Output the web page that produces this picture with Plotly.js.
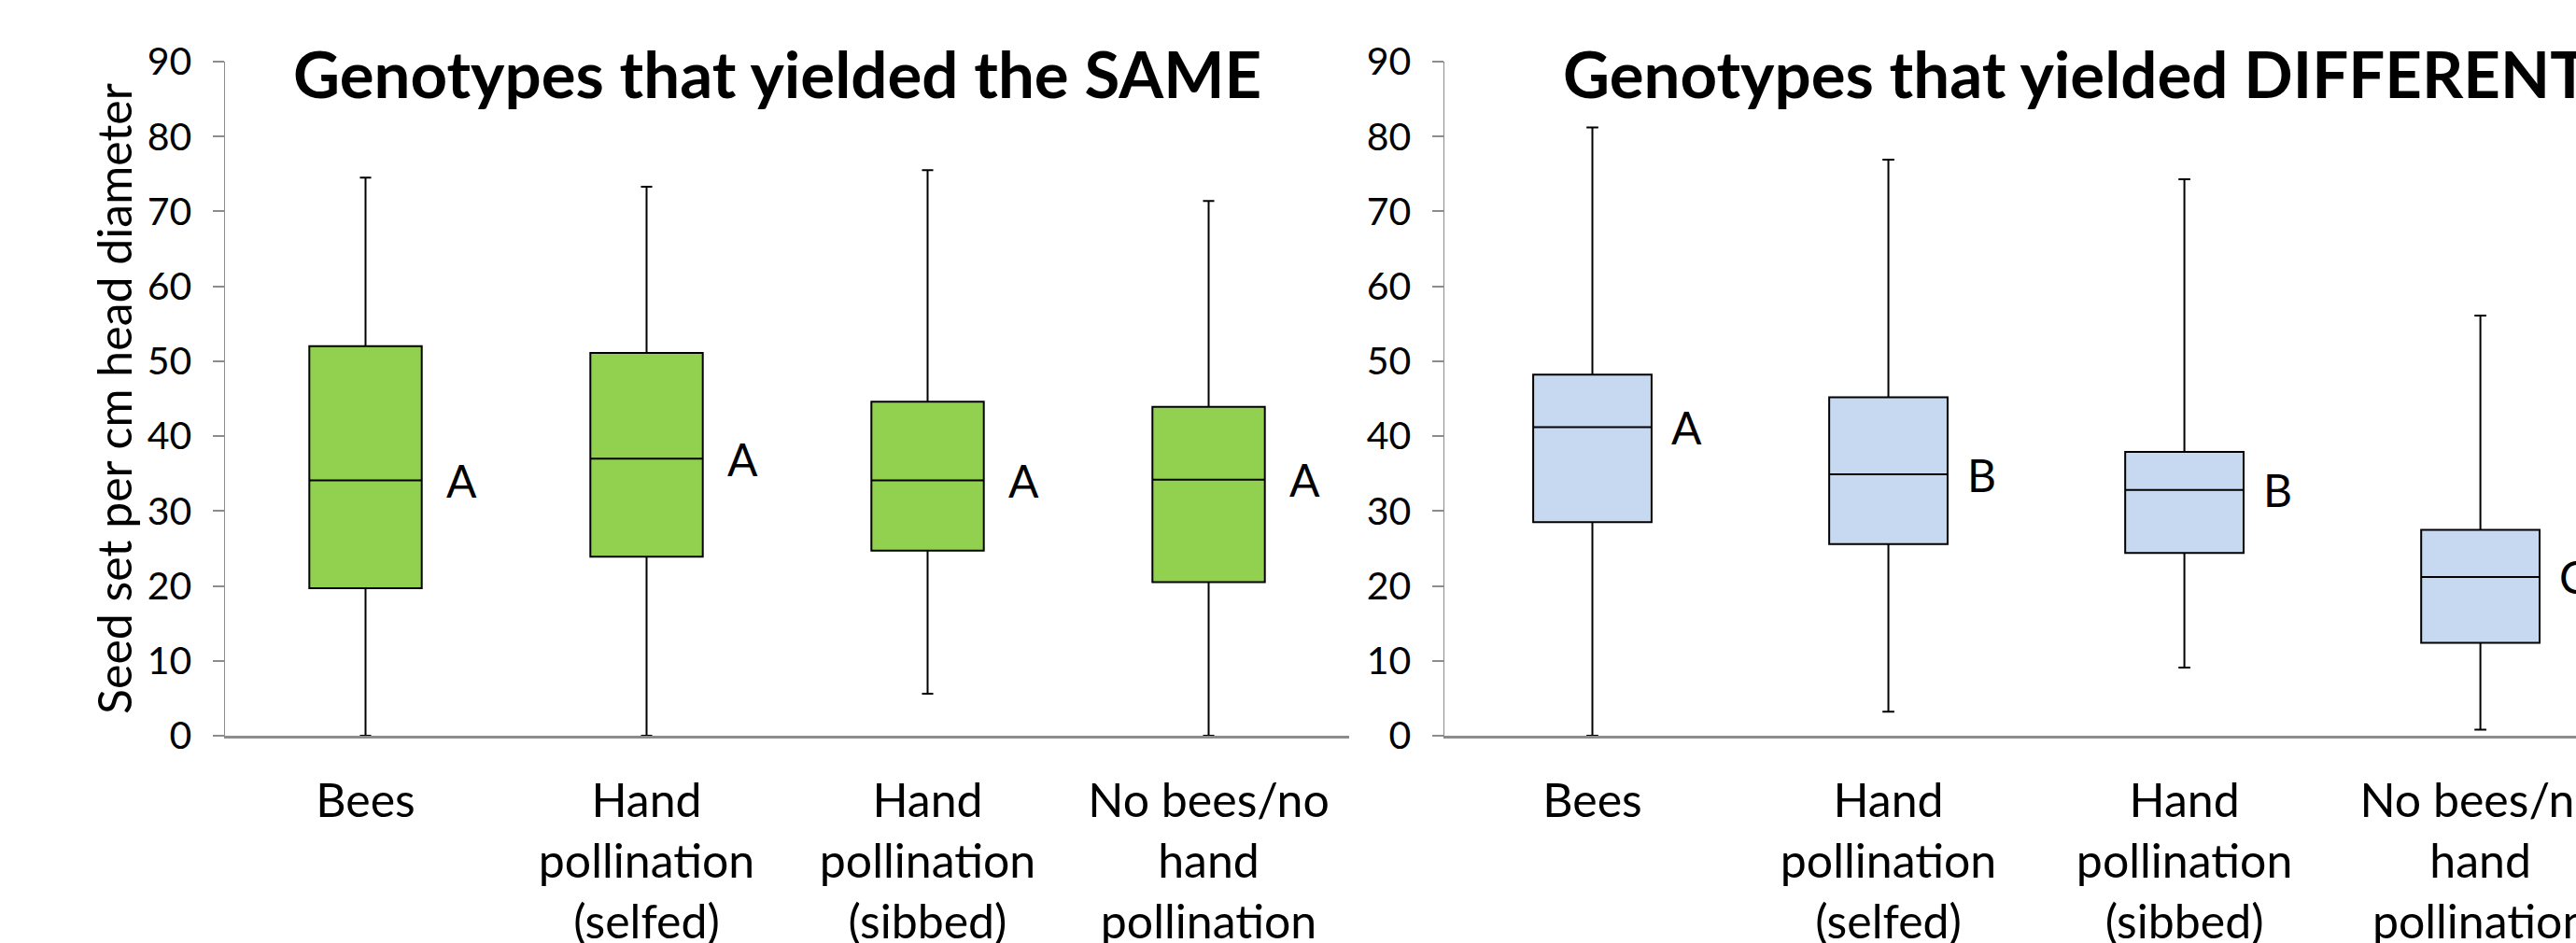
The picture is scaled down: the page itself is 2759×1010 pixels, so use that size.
<!DOCTYPE html>
<html>
<head>
<meta charset="utf-8">
<script src="https://cdn.plot.ly/plotly-3.0.1.min.js"></script>
<style>
  html, body { margin: 0; padding: 0; background: #fff; }
  #chart { width: 2759px; height: 1010px; }
</style>
</head>
<body>
<div id="chart"></div>
<script>
// ---- data ----
const categories = ['Bees', 'Hand<br>pollination<br>(selfed)', 'Hand<br>pollination<br>(sibbed)', 'No bees/no<br>hand<br>pollination'];

const sameUpper  = [74.5, 73.3, 75.5, 71.4];
const sameQ3     = [52.0, 51.1, 44.6, 43.9];
const sameMedian = [34.1, 37.0, 34.1, 34.2];
const sameQ1     = [19.7, 23.9, 24.7, 20.5];
const sameLower  = [0, 0, 5.6, 0];
const sameLetters = ['A', 'A', 'A', 'A'];

const diffUpper  = [81.2, 76.9, 74.3, 56.1];
const diffQ3     = [48.2, 45.2, 37.9, 27.5];
const diffMedian = [41.2, 34.9, 32.8, 21.2];
const diffQ1     = [28.5, 25.6, 24.4, 12.4];
const diffLower  = [0, 3.2, 9.1, 0.8];
const diffLetters = ['A', 'B', 'B', 'C'];

const yTickVals = [0, 10, 20, 30, 40, 50, 60, 70, 80, 90];

const titleSame = 'Genotypes that yielded the SAME';
const titleDiff = 'Genotypes that yielded DIFFERENT';
const yTitle = 'Seed set per cm head diameter';

// ---- styling ----
const FONT = 'Lato, Carlito, Calibri, sans-serif';
const GRAY = '#8c8c8c';
const W = 2759, H = 1010;

const traces = [
  {
    type: 'box', xaxis: 'x', yaxis: 'y',
    x: categories,
    q1: sameQ1, median: sameMedian, q3: sameQ3,
    lowerfence: sameLower, upperfence: sameUpper,
    fillcolor: '#92D050',
    line: { color: '#000000', width: 2 },
    width: 0.4, whiskerwidth: 0.1,
    boxpoints: false, showlegend: false, hoverinfo: 'skip'
  },
  {
    type: 'box', xaxis: 'x2', yaxis: 'y2',
    x: categories,
    q1: diffQ1, median: diffMedian, q3: diffQ3,
    lowerfence: diffLower, upperfence: diffUpper,
    fillcolor: '#C6D9F1',
    line: { color: '#000000', width: 2 },
    width: 0.4, whiskerwidth: 0.1,
    boxpoints: false, showlegend: false, hoverinfo: 'skip'
  }
];

function xAxis(domain, range) {
  return {
    domain: domain, range: range, type: 'category',
    categoryorder: 'array', categoryarray: categories,
    showline: true, linecolor: GRAY, linewidth: 2.5,
    ticks: '', showgrid: false, zeroline: false,
    tickfont: { family: FONT, size: 50, color: '#000' },
    ticklabelstandoff: 24, fixedrange: true
  };
}
function yAxis(anchor) {
  return {
    anchor: anchor, range: [0, 90], tickvals: yTickVals,
    showline: true, linecolor: GRAY, linewidth: 1.5,
    ticks: 'outside', ticklen: 12, tickwidth: 2, tickcolor: GRAY,
    showgrid: false, zeroline: false,
    tickfont: { family: FONT, size: 41, color: '#000' },
    ticklabelstandoff: 14, fixedrange: true
  };
}

const annotations = [];
function letterAnn(letters, medians, xref, yref, offset) {
  letters.forEach((t, i) => {
    annotations.push({
      text: t, x: i + offset, y: medians[i], xref: xref, yref: yref,
      xanchor: 'left', yanchor: 'middle', showarrow: false,
      font: { family: FONT, size: 48, color: '#000' }
    });
  });
}
letterAnn(sameLetters, sameMedian, 'x', 'y', 0.28);
letterAnn(diffLetters, diffMedian, 'x2', 'y2', 0.26);

annotations.push({
  text: '<b>' + titleSame + '</b>', xref: 'paper', yref: 'paper',
  x: 832 / W, y: 0.982, xanchor: 'center', yanchor: 'middle', showarrow: false,
  font: { family: FONT, size: 69, color: '#000' }
});
annotations.push({
  text: '<b>' + titleDiff + '</b>', xref: 'paper', yref: 'paper',
  x: 1672 / W, y: 0.982, xanchor: 'left', yanchor: 'middle', showarrow: false,
  font: { family: FONT, size: 69, color: '#000' }
});
annotations.push({
  text: yTitle, xref: 'paper', yref: 'paper', textangle: -90,
  x: 122 / W, y: 0.5, xanchor: 'center', yanchor: 'middle', showarrow: false,
  font: { family: FONT, size: 50, color: '#000' }
});

const layout = {
  width: W, height: H,
  margin: { l: 0, r: 0, t: 66, b: 222, pad: 0 },
  paper_bgcolor: '#ffffff', plot_bgcolor: '#ffffff',
  showlegend: false,
  xaxis: xAxis([241 / W, 1445 / W], [-0.5, 3.5]),
  xaxis2: Object.assign(xAxis([1547 / W, 1], [-0.5, 3.323]), { anchor: 'y2' }),
  yaxis: yAxis('x'),
  yaxis2: yAxis('x2'),
  annotations: annotations
};
layout.xaxis.anchor = 'y';

Plotly.newPlot('chart', traces, layout, { displayModeBar: false, staticPlot: true });
</script>
</body>
</html>
